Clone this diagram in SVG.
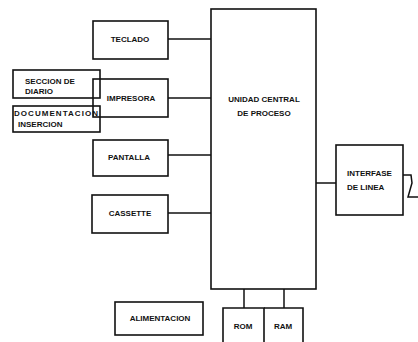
<svg xmlns="http://www.w3.org/2000/svg" width="418" height="342" viewBox="0 0 418 342">
<style>
.b{fill:none;stroke:#111;stroke-width:1.6}
.c{fill:none;stroke:#111;stroke-width:1.5}
text{font-family:"Liberation Sans",Arial,sans-serif;font-weight:bold;font-size:8px;fill:#111}
.m{text-anchor:middle}
</style>
<rect width="418" height="342" fill="#fff"/>
<g id="connectors">
<line class="c" x1="168" y1="39" x2="211" y2="39"/>
<line class="c" x1="168" y1="98" x2="211" y2="98"/>
<line class="c" x1="168" y1="155" x2="211" y2="155"/>
<line class="c" x1="168" y1="213" x2="211" y2="213"/>
<line class="c" x1="316" y1="183" x2="336" y2="183"/>
<line class="c" x1="244" y1="289" x2="244" y2="308"/>
<line class="c" x1="284" y1="289" x2="284" y2="308"/>
<polyline class="c" points="403,175 411,175 412,183 408,197 418,197"/>
</g>
<g id="cpu">
<rect class="b" x="211" y="9" width="105" height="280"/>
<text class="m" x="264" y="102">UNIDAD CENTRAL</text>
<text class="m" x="264" y="116">DE PROCESO</text>
</g>
<g id="teclado">
<rect class="b" x="93" y="21" width="75" height="38"/>
<text class="m" x="130" y="42">TECLADO</text>
</g>
<g id="impresora">
<rect class="b" x="93" y="79" width="75" height="38"/>
<text class="m" x="131" y="101">IMPRESORA</text>
</g>
<g id="seccion">
<rect class="b" x="13" y="70" width="87" height="28"/>
<text x="25" y="84">SECCION DE</text>
<text x="25" y="94">DIARIO</text>
</g>
<g id="documentacion">
<rect class="b" x="13" y="106" width="87" height="26"/>
<text x="14" y="116" textLength="84" lengthAdjust="spacing">DOCUMENTACION</text>
<text x="18" y="127">INSERCION</text>
</g>
<g id="pantalla">
<rect class="b" x="93" y="140" width="75" height="36"/>
<text class="m" x="129" y="160">PANTALLA</text>
</g>
<g id="cassette">
<rect class="b" x="92" y="195" width="76" height="38"/>
<text class="m" x="130" y="216">CASSETTE</text>
</g>
<g id="alimentacion">
<rect class="b" x="115" y="302" width="88" height="33"/>
<text class="m" x="160" y="321">ALIMENTACION</text>
</g>
<g id="interfase">
<rect class="b" x="336" y="145" width="67" height="70"/>
<text x="347" y="176">INTERFASE</text>
<text x="347" y="190">DE  LINEA</text>
</g>
<g id="rom">
<path class="b" d="M223,342 V308 H264 V342"/>
<text class="m" x="243" y="329">ROM</text>
</g>
<g id="ram">
<path class="b" d="M264,308 H303 V342"/>
<text class="m" x="283" y="329">RAM</text>
</g>
</svg>
